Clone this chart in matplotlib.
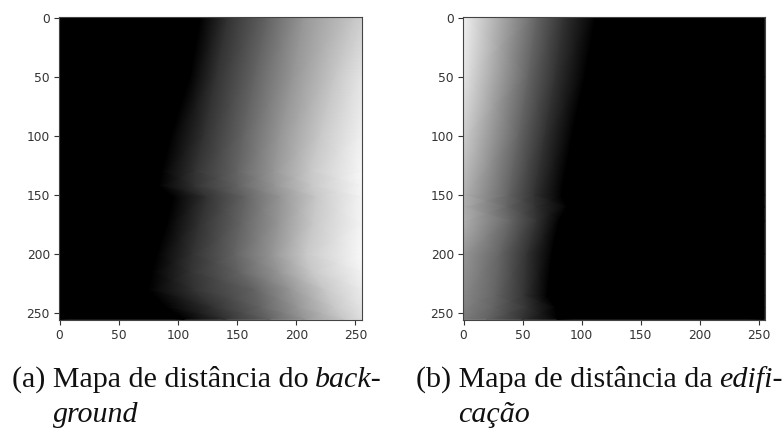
import matplotlib
matplotlib.use("Agg")
import matplotlib.pyplot as plt
import numpy as np

W, H = 784, 437

# Each row of the tables: x position where the gray level is reached
left_rows = [0, 50, 100, 130, 142, 152, 175, 200, 215, 230, 245, 255]
left_edge = [119, 110, 94, 86, 84, 96, 90, 82, 78, 75, 90, 105]
left_x50 = [142, 132, 122, 114, 114, 124, 118, 112, 110, 113, 130, 140]
left_x100 = [176, 165, 155, 150, 151, 157, 153, 148, 152, 165, 170, 177]
left_x150 = [206, 197, 186, 181, 182, 187, 185, 180, 185, 195, 201, 207]
left_x200 = [250, 233, 220, 212, 213, 217, 214, 208, 213, 224, 232, 240]
left_end = [205, 228, 240, 247, 246, 244, 244, 249, 243, 235, 228, 222]

right_rows = [0, 50, 100, 150, 160, 172, 200, 235, 245, 255]
right_start = [240, 228, 205, 178, 175, 176, 150, 135, 130, 122]
right_x100 = [62, 55, 47, 38, 37, 40, 31, 27, 25, 20]
right_x50 = [85, 78, 69, 60, 61, 62, 54, 52, 54, 50]
right_edge = [112, 103, 92, 83, 88, 81, 75, 71, 78, 80]

ticks = [0, 50, 100, 150, 200, 250]

fig = plt.figure(figsize=(W / 100, H / 100), dpi=100)


def panel(x0, x1, rows, X, C):
    ax = fig.add_axes([x0 / W, 1 - 320 / H, (x1 - x0) / W, 303 / H])
    X = np.array(X, float).T
    C = np.array(C, float).T
    Y = np.tile(np.array(rows, float)[:, None], (1, X.shape[1]))
    ax.pcolormesh(X, Y, C, shading="gouraud", cmap="gray", vmin=0, vmax=255)
    ax.set_xlim(-0.5, 255.5)
    ax.set_ylim(255.5, -0.5)
    ax.set_xticks(ticks)
    ax.set_yticks(ticks)
    ax.tick_params(labelsize=8.8, labelcolor="#333333", color="#333333",
                   length=3.5, width=0.8, pad=3)
    for s in ax.spines.values():
        s.set_color("#444444")
        s.set_linewidth(0.8)
    return ax


n_l = len(left_rows)
panel(59, 362, left_rows,
      [[0] * n_l, left_edge, left_x50, left_x100, left_x150, left_x200, [255] * n_l],
      [[0] * n_l, [0] * n_l, [50] * n_l, [100] * n_l, [150] * n_l, [200] * n_l, left_end])

n_r = len(right_rows)
panel(463, 765, right_rows,
      [[0] * n_r, right_x100, right_x50, right_edge, [255] * n_r],
      [right_start, [100] * n_r, [50] * n_r, [0] * n_r, [0] * n_r])

serif = dict(family="Liberation Serif", size=21.6, color="#111111")


def caption(x, y, plain, italic):
    t = fig.text(x / W, 1 - y / H, plain, ha="left", va="baseline", **serif)
    fig.canvas.draw()
    bb = t.get_window_extent()
    fig.text((bb.x1 + 6) / W, 1 - y / H, italic, style="italic",
             ha="left", va="baseline", **serif)


caption(12, 387, "(a) Mapa de distância do", "back-")
fig.text(53 / W, 1 - 422 / H, "ground", style="italic", ha="left", va="baseline", **serif)
caption(416, 387, "(b) Mapa de distância da", "edifi-")
fig.text(458 / W, 1 - 422 / H, "cação", style="italic", ha="left", va="baseline", **serif)

fig.savefig("out.png", dpi=100)
